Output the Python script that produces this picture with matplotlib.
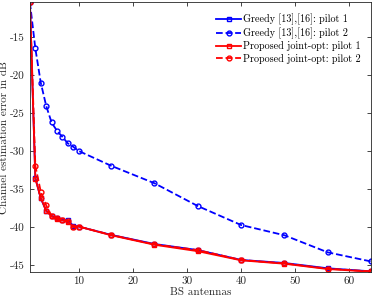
import matplotlib
matplotlib.use('Agg')
import matplotlib.pyplot as plt

plt.rcParams['font.family'] = ['cmr10', 'DejaVu Serif']
plt.rcParams['mathtext.fontset'] = 'cm'
plt.rcParams['axes.unicode_minus'] = False
plt.rcParams['axes.formatter.use_mathtext'] = False

antennas = [1, 2, 3, 4, 5, 6, 7, 8, 9, 10, 16, 24, 32, 40, 48, 56, 64]

greedy_p1 = [-10.4, -33.5, -36.2, -37.8, -38.5, -38.8, -39.0, -39.1, -39.8, -39.9,
             -41.0, -42.2, -43.0, -44.3, -44.7, -45.4, -45.8]
greedy_p2 = [-10.4, -16.45, -20.95, -24.0, -26.2, -27.3, -28.1, -28.95, -29.4, -29.95,
             -31.9, -34.2, -37.2, -39.7, -41.05, -43.3, -44.5]
joint_p1 = [-10.4, -33.6, -36.1, -37.85, -38.55, -38.95, -39.1, -39.25, -39.95, -39.9,
            -41.05, -42.3, -43.15, -44.35, -44.8, -45.5, -45.85]
joint_p2 = [-10.4, -31.9, -35.3, -37.1, -38.5, -38.8, -39.0, -39.2, -40.0, -39.9,
            -41.0, -42.25, -43.0, -44.3, -44.75, -45.45, -45.8]

fig = plt.figure(figsize=(3.74, 2.99), dpi=100)
ax = fig.add_axes([0.080, 0.090, 0.912, 0.903])

ax.plot(antennas, greedy_p1, '-s', color='blue', lw=1.3, ms=3.5, mfc='none', mew=1.0,
        label='Greedy [13],[16]: pilot 1')
ax.plot(antennas, greedy_p2, '--o', color='blue', lw=1.3, ms=3.5, mfc='none', mew=1.0,
        label='Greedy [13],[16]: pilot 2')
ax.plot(antennas, joint_p1, '-s', color='red', lw=1.3, ms=3.5, mfc='none', mew=1.0,
        label='Proposed joint-opt: pilot 1')
ax.plot(antennas, joint_p2, '--o', color='red', lw=1.3, ms=3.5, mfc='none', mew=1.0,
        label='Proposed joint-opt: pilot 2')

ax.set_xlim(1, 64)
ax.set_ylim(-45.9, -10.35)
ax.set_xticks([10, 20, 30, 40, 50, 60])
ax.set_yticks([-45, -40, -35, -30, -25, -20, -15])
ax.tick_params(direction='in', top=True, right=True, labelsize=8, length=3,
               width=0.6, colors='#262626', labelcolor='#262626')
for s in ax.spines.values():
    s.set_linewidth(0.6)
    s.set_color('#262626')

ax.set_xlabel('BS antennas', fontsize=8, color='#262626', labelpad=1)
ax.set_ylabel('Channel estimation error in dB', fontsize=8, color='#262626', labelpad=1)

ax.legend(loc='upper right', fontsize=7.3, frameon=False, handlelength=2.5,
          handletextpad=0.2, labelspacing=0.22, borderaxespad=0.5,
          bbox_to_anchor=(0.997, 0.99))

fig.savefig('out.png', dpi=100)
